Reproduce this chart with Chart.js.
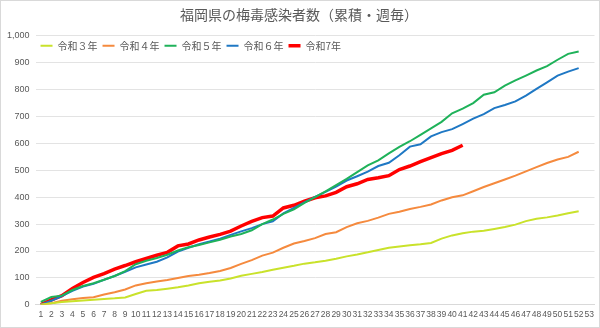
<!DOCTYPE html>
<html>
<head>
<meta charset="utf-8">
<script src="https://cdn.jsdelivr.net/npm/chart.js@4"></script>
<style>
    body { margin: 0; background: #fff; }
    #wrap { width: 600px; height: 328px; box-sizing: border-box; border: 1px solid #d9d9d9; position: relative; }
</style>
</head>
<body>
<div id="wrap"><canvas id="syphilisChart"></canvas></div>
<script>
// weekly cumulative cases
var weeks = ['1', '2', '3', '4', '5', '6', '7', '8', '9', '10', '11', '12', '13', '14', '15', '16', '17', '18',
    '19', '20', '21', '22', '23', '24', '25', '26', '27', '28', '29', '30', '31', '32', '33', '34', '35', '36',
    '37', '38', '39', '40', '41', '42', '43', '44', '45', '46', '47', '48', '49', '50', '51', '52', '53'];

var seriesNames = ['令和３年', '令和４年', '令和５年', '令和６年', '令和7年'];

var r3 = [0, 6, 10, 13, 16, 19, 22, 24, 27, 40, 52, 55, 60, 65, 72, 80, 86, 90, 98, 108, 115, 122, 130, 138, 145,
    153, 158, 164, 171, 180, 187, 195, 204, 212, 217, 221, 225, 230, 246, 258, 266, 272, 275, 282, 289, 298, 311,
    320, 325, 332, 340, 348];
var r4 = [0, 6, 15, 21, 25, 28, 38, 47, 57, 72, 80, 87, 92, 100, 107, 112, 118, 126, 137, 152, 166, 183, 194, 212,
    228, 237, 248, 263, 270, 289, 303, 312, 324, 338, 346, 356, 364, 373, 388, 400, 407, 422, 438, 452, 466, 480,
    496, 512, 527, 540, 550, 569];
var r5 = [11, 29, 34, 55, 70, 80, 93, 107, 125, 151, 164, 174, 186, 202, 214, 222, 232, 242, 254, 263, 277, 300, 317,
    338, 355, 379, 400, 422, 445, 468, 493, 518, 537, 563, 587, 608, 632, 656, 680, 712, 729, 750, 781, 790, 815,
    834, 852, 871, 887, 911, 933, 942];
var r6 = [0, 15, 32, 52, 68, 78, 93, 107, 123, 139, 150, 160, 176, 198, 212, 225, 235, 246, 260, 273, 285, 300, 310,
    340, 360, 381, 401, 420, 439, 462, 478, 495, 516, 528, 556, 588, 597, 626, 642, 653, 672, 692, 709, 731, 743,
    756, 778, 803, 827, 852, 867, 880];
var r7 = [1, 18, 34, 61, 83, 102, 116, 133, 146, 160, 172, 184, 195, 219, 226, 241, 252, 262, 274, 293, 310, 324,
    330, 360, 370, 385, 398, 405, 418, 439, 450, 466, 472, 480, 503, 516, 532, 547, 562, 574, 593];

var lineColors = ['#c9e22b', '#f58a3e', '#1fb25a', '#1f78c4', '#ff0000'];
var lineWidths = [2, 2, 2, 2, 3.5];

var gray = '#595959';
var font = "'Noto Sans CJK JP', 'Noto Sans', sans-serif";

var allSeries = [r3, r4, r5, r6, r7];
var datasets = allSeries.map(function (values, i) {
    return {
        label: seriesNames[i],
        data: values,
        borderColor: lineColors[i],
        backgroundColor: lineColors[i],
        borderWidth: lineWidths[i],
        pointRadius: 0,
        pointHoverRadius: 0,
        tension: 0,
        fill: false
    };
});

// legend sits inside the plot, over the top gridlines (like the Excel original):
// let it take no layout height, then give its height back for drawing
var overlayLegend = {
    id: 'overlayLegend',
    afterInit: function (chart) {
        var legend = chart.legend;
        var fit = legend.fit;
        legend.fit = function () {
            fit.call(this);
            this._drawHeight = this.height;
            this.height = 0;
        };
    },
    afterLayout: function (chart) {
        var legend = chart.legend;
        legend.height = legend._drawHeight;
        legend.bottom = legend.top + legend._drawHeight;
    }
};

new Chart(document.getElementById('syphilisChart'), {
    type: 'line',
    data: { labels: weeks, datasets: datasets },
    plugins: [overlayLegend],
    options: {
        responsive: true,
        maintainAspectRatio: false,
        animation: false,
        layout: { padding: { left: 0, right: 2, bottom: 2 } },
        plugins: {
            title: {
                display: true,
                text: '福岡県の梅毒感染者数（累積・週毎）',
                color: gray,
                font: { family: font, size: 14, weight: 'normal' },
                padding: { top: 5, bottom: 13 }
            },
            legend: {
                position: 'top',
                align: 'start',
                fullSize: false,
                labels: {
                    usePointStyle: true,
                    pointStyle: 'line',
                    pointStyleWidth: 12,
                    color: gray,
                    font: { family: font, size: 10 },
                    padding: 5
                }
            },
            tooltip: { enabled: false }
        },
        scales: {
            x: {
                offset: true,
                grid: { display: false, drawTicks: false },
                border: { color: '#d9d9d9' },
                ticks: {
                    color: gray,
                    font: { family: "'Liberation Sans', sans-serif", size: 8.5 },
                    autoSkip: false,
                    maxRotation: 0,
                    minRotation: 0,
                    padding: 5
                }
            },
            y: {
                min: 0,
                max: 1000,
                grid: { color: '#e3e3e3', drawTicks: false },
                border: { display: false },
                ticks: {
                    stepSize: 100,
                    color: gray,
                    font: { family: "'Liberation Sans', sans-serif", size: 9 },
                    padding: 6,
                    callback: function (value) {
                        return value.toLocaleString('en-US');
                    }
                }
            }
        }
    }
});
</script>
</body>
</html>
